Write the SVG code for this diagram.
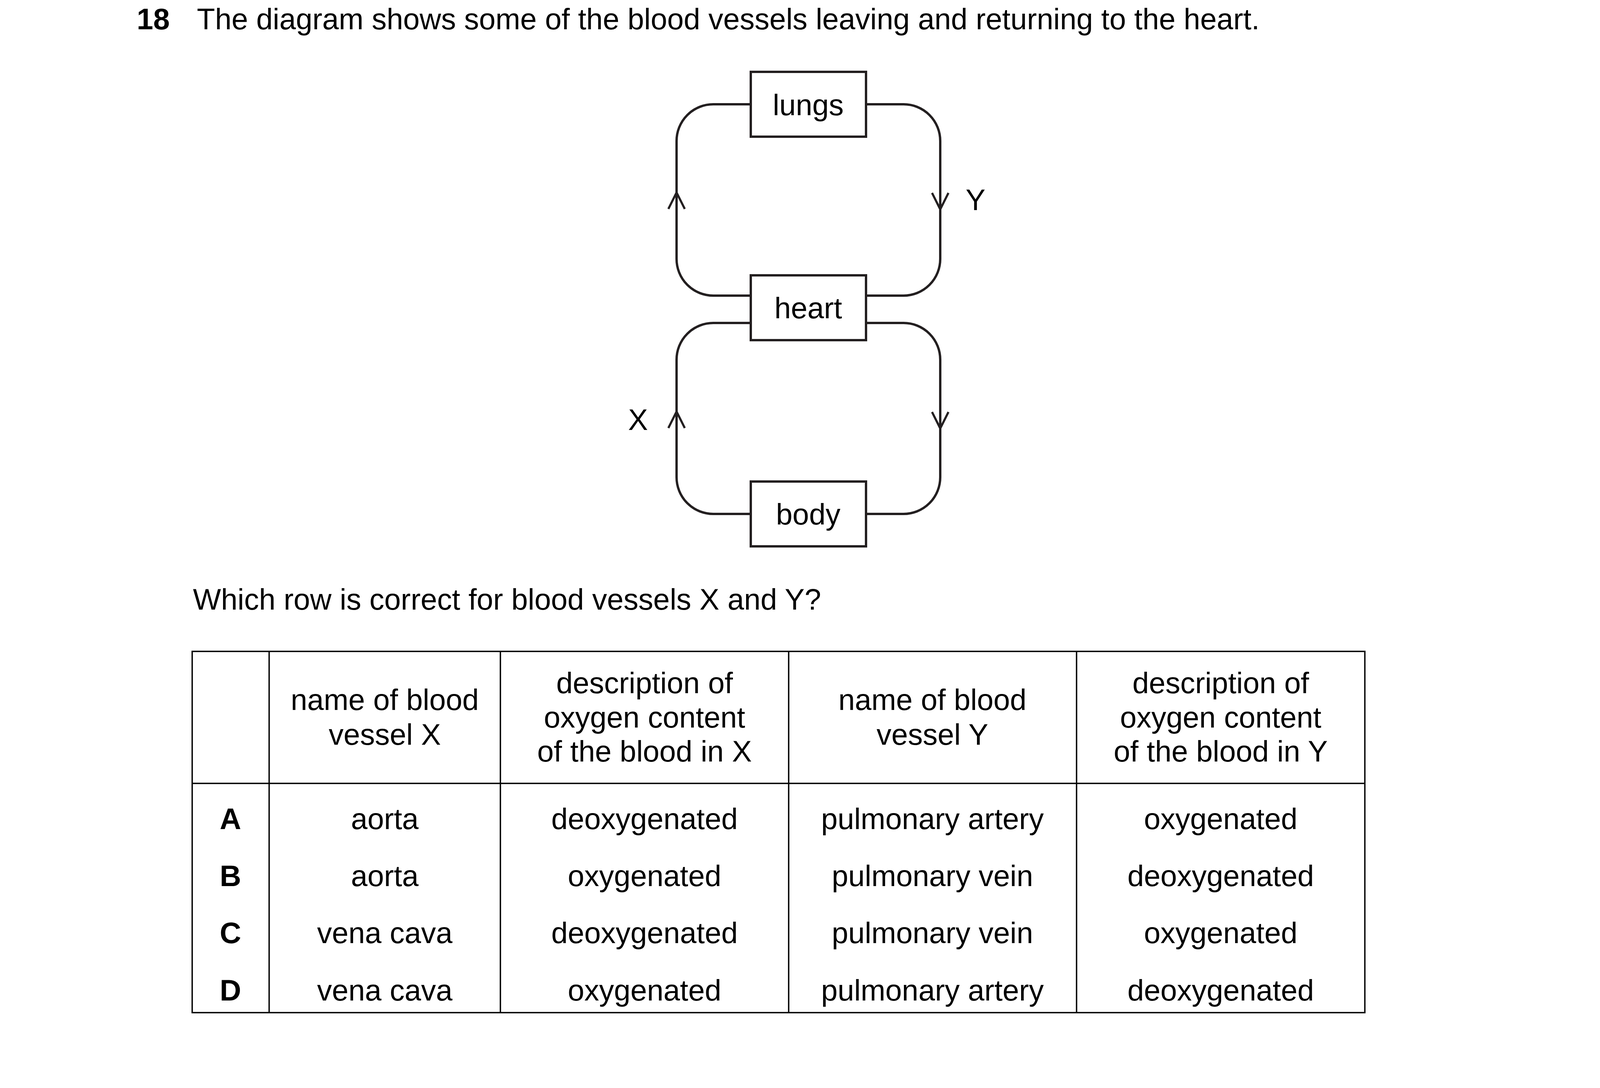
<svg xmlns="http://www.w3.org/2000/svg" width="4132" height="2786" viewBox="0 0 4132 2786">
<style>
text{font-family:"Liberation Sans",Arial,sans-serif;font-size:76px;fill:#000}
.c{text-anchor:middle}
.b{font-weight:bold}
.box{fill:#fff;stroke:#231f20;stroke-width:6}
.ves{fill:none;stroke:#231f20;stroke-width:6}
.arr{fill:none;stroke:#231f20;stroke-width:5.5;stroke-linejoin:miter}
.tb{fill:none;stroke:#000;stroke-width:3.5}
</style>
<rect width="4132" height="2786" fill="#fff"/>
<g id="question">
<text x="350" y="75" class="b">18</text>
<text x="504" y="75">The diagram shows some of the blood vessels leaving and returning to the heart.</text>
</g>
<g id="connectors">
<path class="ves" d="M1922 267H1826A94 94 0 0 0 1732 361V663A94 94 0 0 0 1826 757H1922"/>
<path class="ves" d="M2217 267H2313A94 94 0 0 1 2407 361V663A94 94 0 0 1 2313 757H2217"/>
<path class="ves" d="M1922 827H1826A94 94 0 0 0 1732 921V1222A94 94 0 0 0 1826 1316H1922"/>
<path class="ves" d="M2217 827H2313A94 94 0 0 1 2407 921V1222A94 94 0 0 1 2313 1316H2217"/>
<path class="arr" d="M1711 535L1732 493L1753 535"/>
<path class="arr" d="M1711 1096L1732 1054L1753 1096"/>
<path class="arr" d="M2386 494L2407 536L2428 494"/>
<path class="arr" d="M2386 1055L2407 1097L2428 1055"/>
<text x="2472" y="538">Y</text>
<text x="1608" y="1101">X</text>
</g>
<g id="lungs">
<rect class="box" x="1922" y="184" width="295" height="166"/>
<text x="2069" y="295" class="c">lungs</text>
</g>
<g id="heart">
<rect class="box" x="1922" y="705" width="295" height="166"/>
<text x="2069" y="815" class="c">heart</text>
</g>
<g id="body">
<rect class="box" x="1922" y="1233" width="295" height="166"/>
<text x="2069" y="1343" class="c">body</text>
</g>
<g id="prompt">
<text x="494" y="1561">Which row is correct for blood vessels X and Y?</text>
</g>
<g id="table">
<rect class="tb" x="492" y="1668" width="3002" height="925"/>
<line class="tb" x1="492" y1="2006" x2="3494" y2="2006"/>
<line class="tb" x1="689" y1="1668" x2="689" y2="2593"/>
<line class="tb" x1="1281" y1="1668" x2="1281" y2="2593"/>
<line class="tb" x1="2019" y1="1668" x2="2019" y2="2593"/>
<line class="tb" x1="2756" y1="1668" x2="2756" y2="2593"/>
<text x="985" y="1818" class="c">name of blood</text>
<text x="985" y="1907" class="c">vessel X</text>
<text x="1650" y="1775" class="c">description of</text>
<text x="1650" y="1863" class="c">oxygen content</text>
<text x="1650" y="1950" class="c">of the blood in X</text>
<text x="2387" y="1818" class="c">name of blood</text>
<text x="2387" y="1907" class="c">vessel Y</text>
<text x="3125" y="1775" class="c">description of</text>
<text x="3125" y="1863" class="c">oxygen content</text>
<text x="3125" y="1950" class="c">of the blood in Y</text>
<text x="590" y="2123" class="c b">A</text>
<text x="985" y="2123" class="c">aorta</text>
<text x="1650" y="2123" class="c">deoxygenated</text>
<text x="2387" y="2123" class="c">pulmonary artery</text>
<text x="3125" y="2123" class="c">oxygenated</text>
<text x="590" y="2269" class="c b">B</text>
<text x="985" y="2269" class="c">aorta</text>
<text x="1650" y="2269" class="c">oxygenated</text>
<text x="2387" y="2269" class="c">pulmonary vein</text>
<text x="3125" y="2269" class="c">deoxygenated</text>
<text x="590" y="2415" class="c b">C</text>
<text x="985" y="2415" class="c">vena cava</text>
<text x="1650" y="2415" class="c">deoxygenated</text>
<text x="2387" y="2415" class="c">pulmonary vein</text>
<text x="3125" y="2415" class="c">oxygenated</text>
<text x="590" y="2562" class="c b">D</text>
<text x="985" y="2562" class="c">vena cava</text>
<text x="1650" y="2562" class="c">oxygenated</text>
<text x="2387" y="2562" class="c">pulmonary artery</text>
<text x="3125" y="2562" class="c">deoxygenated</text>
</g>
</svg>
